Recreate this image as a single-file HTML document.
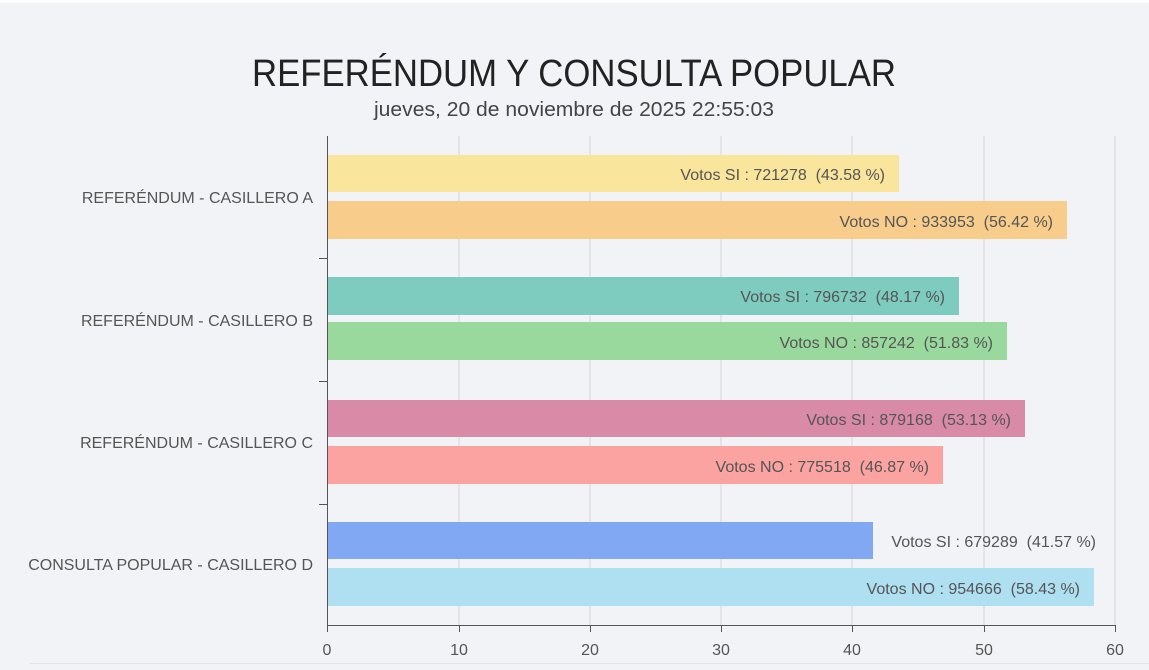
<!DOCTYPE html>
<html><head><meta charset="utf-8"><style>
html,body{margin:0;padding:0;background:#f2f3f7;}
svg{display:block;font-family:"Liberation Sans",sans-serif;}
text{white-space:pre;}
</style></head><body>
<svg width="1149" height="670" viewBox="0 0 1149 670" xml:space="preserve">
<rect x="0" y="0" width="1149" height="670" fill="#f2f3f7"/>
<rect x="0" y="0" width="1149" height="3" fill="#ffffff"/>
<text x="574" y="86" text-anchor="middle" font-size="38" fill="#222" textLength="644" lengthAdjust="spacingAndGlyphs">REFERÉNDUM Y CONSULTA POPULAR</text>
<text x="574" y="116" text-anchor="middle" font-size="20" fill="#444" textLength="400" lengthAdjust="spacingAndGlyphs">jueves, 20 de noviembre de 2025 22:55:03</text>
<g stroke="#d6d6d9" stroke-width="1">
<line x1="459" y1="136" x2="459" y2="625"/>
<line x1="590" y1="136" x2="590" y2="625"/>
<line x1="721" y1="136" x2="721" y2="625"/>
<line x1="852" y1="136" x2="852" y2="625"/>
<line x1="984" y1="136" x2="984" y2="625"/>
<line x1="1115" y1="136" x2="1115" y2="625"/>
</g>
<g>
<rect x="328" y="155" width="571" height="37" fill="#fae59d"/>
<rect x="328" y="201" width="739" height="38" fill="#f8cd8c"/>
<rect x="328" y="277" width="631" height="38" fill="#7ecbc0"/>
<rect x="328" y="322" width="679" height="38" fill="#9ad99e"/>
<rect x="328" y="400" width="697" height="37" fill="#d98aa6"/>
<rect x="328" y="446" width="615" height="38" fill="#fba3a1"/>
<rect x="328" y="522" width="545" height="37" fill="#81a8f2"/>
<rect x="328" y="568" width="766" height="38" fill="#aee0f2"/>
</g>
<g font-size="16" fill="#555" text-anchor="end">
<text x="885" y="180">Votos SI : 721278  (43.58 %)</text>
<text x="1053" y="227">Votos NO : 933953  (56.42 %)</text>
<text x="945" y="302">Votos SI : 796732  (48.17 %)</text>
<text x="993" y="348">Votos NO : 857242  (51.83 %)</text>
<text x="1011" y="425">Votos SI : 879168  (53.13 %)</text>
<text x="929" y="472">Votos NO : 775518  (46.87 %)</text>
<text x="1096" y="547">Votos SI : 679289  (41.57 %)</text>
<text x="1080" y="594">Votos NO : 954666  (58.43 %)</text>
</g>
<g stroke="#555" stroke-width="1">
<line x1="327.5" y1="136" x2="327.5" y2="626"/>
<line x1="327" y1="625.5" x2="1115" y2="625.5"/>
<line x1="319" y1="258.5" x2="327" y2="258.5"/>
<line x1="319" y1="381.5" x2="327" y2="381.5"/>
<line x1="319" y1="504.5" x2="327" y2="504.5"/>
<line x1="327.5" y1="625" x2="327.5" y2="632"/>
<line x1="459.5" y1="625" x2="459.5" y2="632"/>
<line x1="590.5" y1="625" x2="590.5" y2="632"/>
<line x1="721.5" y1="625" x2="721.5" y2="632"/>
<line x1="852.5" y1="625" x2="852.5" y2="632"/>
<line x1="984.5" y1="625" x2="984.5" y2="632"/>
<line x1="1115.5" y1="625" x2="1115.5" y2="632"/>
</g>
<g font-size="16" fill="#555" text-anchor="end">
<text x="313" y="203">REFERÉNDUM - CASILLERO A</text>
<text x="313" y="326">REFERÉNDUM - CASILLERO B</text>
<text x="313" y="448">REFERÉNDUM - CASILLERO C</text>
<text x="313" y="570">CONSULTA POPULAR - CASILLERO D</text>
</g>
<g font-size="16" fill="#555" text-anchor="middle">
<text x="327" y="655">0</text>
<text x="459" y="655">10</text>
<text x="590" y="655">20</text>
<text x="721" y="655">30</text>
<text x="852" y="655">40</text>
<text x="984" y="655">50</text>
<text x="1115" y="655">60</text>
</g>
<line x1="30" y1="663.5" x2="1149" y2="663.5" stroke="#e3e4e8" stroke-width="1"/>
</svg>
</body></html>
